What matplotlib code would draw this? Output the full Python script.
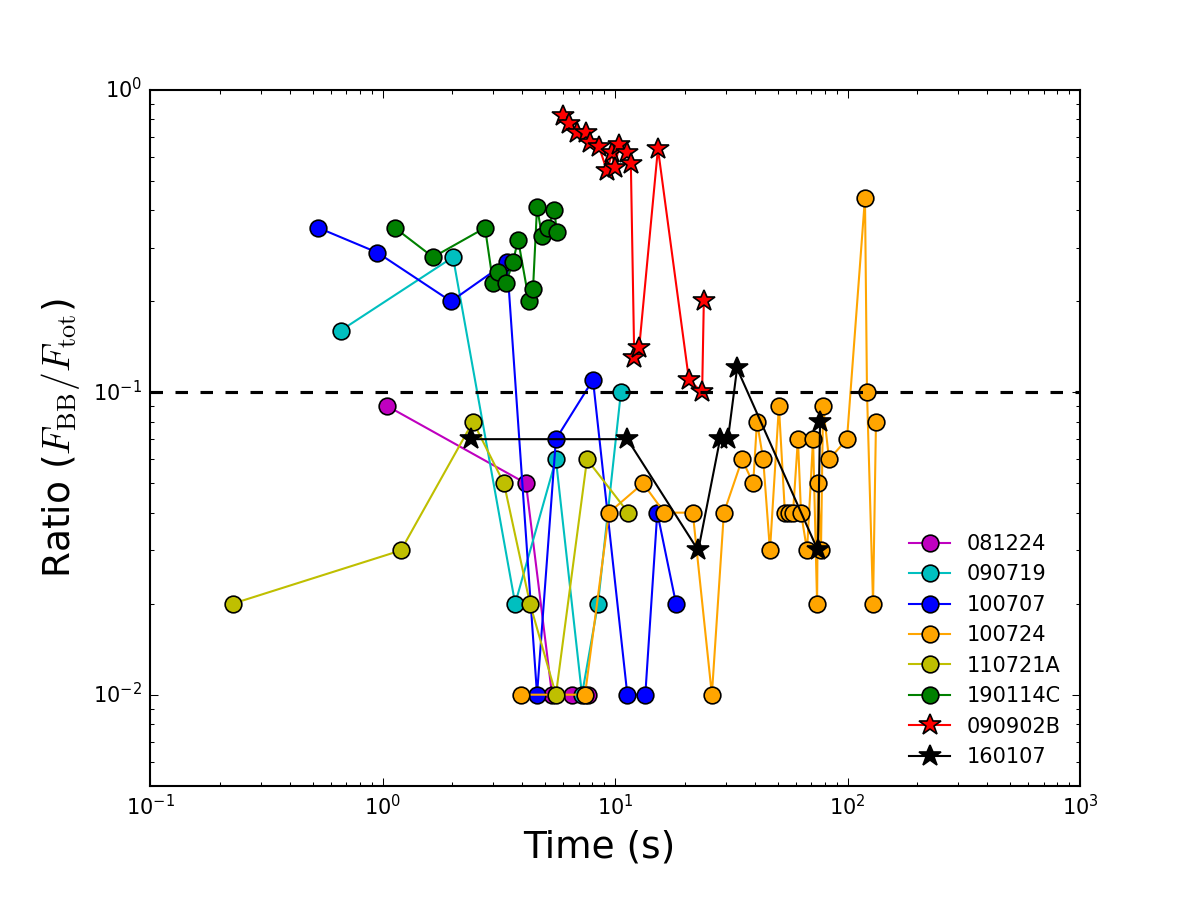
import matplotlib

matplotlib.use("Agg")
import matplotlib.pyplot as plt

plt.style.use("classic")
plt.rcParams["mathtext.fontset"] = "dejavusans"

# time (s) and BB ratio for each burst
t_081224 = [1.05, 4.14, 5.36, 6.53, 7.65]
r_081224 = [0.09, 0.05, 0.01, 0.01, 0.01]

t_090719 = [0.66, 2.01, 3.72, 5.57, 7.21, 8.45, 10.6]
r_090719 = [0.16, 0.28, 0.02, 0.06, 0.01, 0.02, 0.10]

t_100707 = [0.53, 0.95, 1.97, 3.43, 4.62, 5.57, 8.04, 11.3, 13.5, 15.2, 18.3]
r_100707 = [0.35, 0.29, 0.20, 0.27, 0.01, 0.07, 0.11, 0.01, 0.01, 0.04, 0.02]

t_100724 = [3.94, 7.43, 9.42, 13.2, 16.3, 21.6, 26.1, 29.4, 35.2, 39.3,
            40.8, 43.4, 46.4, 50.7, 53.8, 56.0, 58.3, 61.2, 63.1, 67.0,
            71.1, 74.0, 74.6, 76.9, 78.5, 83.3, 99.5, 118.9, 121.3, 128.8,
            132.6]
r_100724 = [0.01, 0.01, 0.04, 0.05, 0.04, 0.04, 0.01, 0.04, 0.06, 0.05,
            0.08, 0.06, 0.03, 0.09, 0.04, 0.04, 0.04, 0.07, 0.04, 0.03,
            0.07, 0.02, 0.05, 0.03, 0.09, 0.06, 0.07, 0.44, 0.10, 0.02,
            0.08]

t_110721A = [0.227, 1.20, 2.45, 3.33, 4.31, 5.57, 7.58, 11.4]
r_110721A = [0.02, 0.03, 0.08, 0.05, 0.02, 0.01, 0.06, 0.04]

t_190114C = [1.13, 1.65, 2.76, 2.99, 3.14, 3.40, 3.64, 3.83, 4.27, 4.44,
             4.62, 4.85, 5.15, 5.47, 5.63]
r_190114C = [0.35, 0.28, 0.35, 0.23, 0.25, 0.23, 0.27, 0.32, 0.20, 0.22,
             0.41, 0.33, 0.35, 0.40, 0.34]

t_090902B = [5.98, 6.34, 6.87, 7.50, 7.80, 8.53, 9.24, 9.71, 10.0, 10.4,
             11.3, 11.7, 12.1, 12.7, 15.3, 20.8, 23.7, 24.1]
r_090902B = [0.82, 0.77, 0.72, 0.72, 0.67, 0.65, 0.54, 0.62, 0.55, 0.66,
             0.62, 0.57, 0.13, 0.14, 0.64, 0.11, 0.10, 0.20]

t_160107 = [2.40, 11.3, 22.8, 28.3, 30.6, 33.5, 74.6, 76.2]
r_160107 = [0.07, 0.07, 0.03, 0.07, 0.07, 0.12, 0.03, 0.08]

THRESHOLD = 0.1


def main() -> int:
    fig = plt.figure(figsize=(8, 6), dpi=150)
    fig.subplots_adjust(left=0.125, right=0.9, top=0.9, bottom=0.127)
    ax = fig.add_subplot(111)

    series = [
        ("081224", t_081224, r_081224, "m", "o"),
        ("090719", t_090719, r_090719, "c", "o"),
        ("100707", t_100707, r_100707, "b", "o"),
        ("100724", t_100724, r_100724, "orange", "o"),
        ("110721A", t_110721A, r_110721A, "y", "o"),
        ("190114C", t_190114C, r_190114C, "g", "o"),
        ("090902B", t_090902B, r_090902B, "r", "*"),
        ("160107", t_160107, r_160107, "k", "*"),
    ]
    for label, t, r, color, marker in series:
        size = 8 if marker == "o" else 11
        ax.plot(t, r, color=color, marker=marker, ms=size, mfc=color,
                mec="k", mew=0.8, lw=1.0, label=label)

    ax.axhline(THRESHOLD, color="k", ls="--", lw=1.5)

    ax.set_xscale("log")
    ax.set_yscale("log")
    ax.set_xlim(0.1, 1000)
    ax.set_ylim(0.005, 1)
    ax.tick_params(which="both", labelsize=10)
    ax.set_xlabel("Time (s)", fontsize=18)
    ax.xaxis.label.set_x(0.483)
    ax.set_ylabel(r"Ratio ($F_{\rm BB}/F_{\rm tot}$)", fontsize=18,
                  math_fontfamily="cm")
    ax.legend(loc="lower right", frameon=False, numpoints=1, fontsize=10)

    fig.savefig("out.png", dpi=150)
    plt.close(fig)
    return 0


if __name__ == "__main__":
    raise SystemExit(main())
